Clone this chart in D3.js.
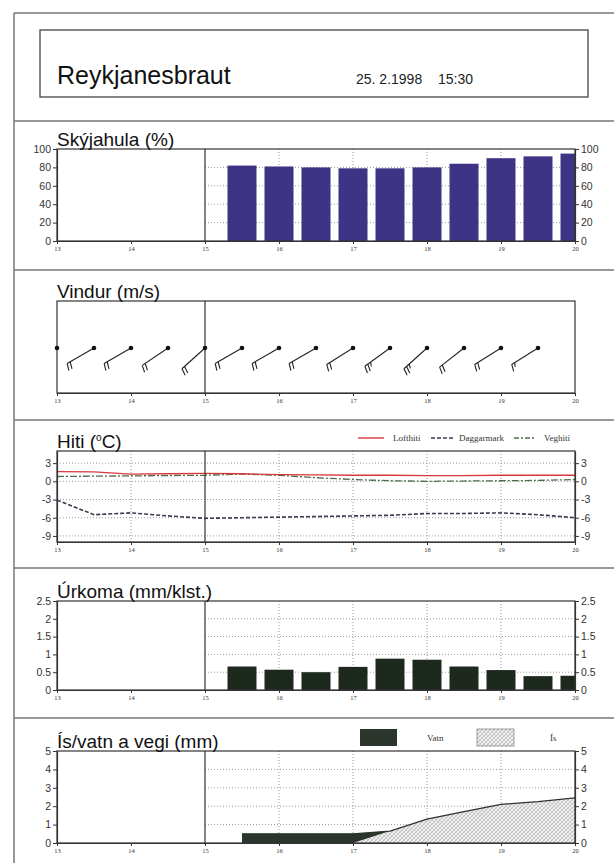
<!DOCTYPE html>
<html>
<head>
<meta charset="utf-8">
<script src="https://cdn.jsdelivr.net/npm/d3@7"></script>
<style>
  body { margin: 0; background: #fff; }
  svg { display: block; font-family: 'Liberation Sans', Arial, sans-serif; }
  .tick text { fill: #333; }
  .tick line, .domain { stroke: #333; }
</style>
</head>
<body>
<svg id="chart"></svg>
<script>
// x axis hours
const hours = [13, 14, 15, 16, 17, 18, 19, 20];

// Skýjahula (%) - half hourly from 15.5
const cloudTimes = [15.5, 16, 16.5, 17, 17.5, 18, 18.5, 19, 19.5, 20];
const cloudCover = [82, 81, 80, 79, 79, 80, 84, 90, 92, 95];

// Vindur (m/s)
const windTimes = [13, 13.5, 14, 14.5, 15, 15.5, 16, 16.5, 17, 17.5, 18, 18.5, 19, 19.5];
const windSpeed = [13, 12, 12, 11, 12, 12, 11, 12, 12, 13, 13, 12, 11, 9];
const windDir = [240, 240, 240, 236, 228, 240, 240, 240, 238, 234, 228, 232, 238, 238];

// Hiti (°C)
const tempTimes = [13, 13.5, 14, 14.5, 15, 15.5, 16, 16.5, 17, 17.5, 18, 18.5, 19, 19.5, 20];
const airTemp = [1.6, 1.55, 1.2, 1.25, 1.3, 1.25, 1.1, 1.05, 1.0, 1.0, 0.95, 0.95, 1.0, 1.0, 1.0];
const dewPoint = [-3.1, -5.5, -5.2, -5.7, -6.1, -6.0, -5.9, -5.8, -5.7, -5.6, -5.3, -5.3, -5.2, -5.5, -6.0];
const roadTemp = [0.8, 0.85, 0.9, 0.95, 1.0, 1.2, 1.0, 0.6, 0.3, 0.1, 0.0, 0.05, 0.1, 0.15, 0.3];

// Úrkoma (mm/klst.)
const precipTimes = [15.5, 16, 16.5, 17, 17.5, 18, 18.5, 19, 19.5, 20];
const precip = [0.66, 0.57, 0.5, 0.65, 0.88, 0.85, 0.66, 0.56, 0.39, 0.4];

// Ís/vatn a vegi (mm)
const roadTimes = [15.5, 16, 16.5, 17, 17.5, 18, 18.5, 19, 19.5, 20];
const water = [0.5, 0.5, 0.5, 0.5, 0, 0, 0, 0, 0, 0];
const ice = [0, 0, 0, 0, 0.65, 1.3, 1.7, 2.1, 2.25, 2.45];

const width = 614;
const height = 863;

const svg = d3.select('#chart').attr('width', width).attr('height', height);
const defs = svg.append('defs');

const hatch = defs.append('pattern')
  .attr('id', 'hatch')
  .attr('patternUnits', 'userSpaceOnUse')
  .attr('width', 4)
  .attr('height', 4);
hatch.append('rect').attr('width', 4).attr('height', 4).attr('fill', '#efefef');
hatch.append('path').attr('d', 'M0,4 L4,0').attr('stroke', '#999').attr('stroke-width', 0.6);
hatch.append('path').attr('d', 'M0,0 L4,4').attr('stroke', '#bbb').attr('stroke-width', 0.5);

const x = d3.scaleLinear().domain([13, 20]).range([57, 575]);

// page frame
const frame = svg.append('g').attr('stroke', '#777').attr('stroke-width', 1.5);
frame.append('line').attr('x1', 14).attr('x2', width).attr('y1', 13).attr('y2', 13);
frame.append('line').attr('x1', 14).attr('x2', 14).attr('y1', 13).attr('y2', height);
[121, 270, 420, 568, 718].forEach((yy) => {
  frame.append('line').attr('x1', 14).attr('x2', width).attr('y1', yy).attr('y2', yy);
});

// header
svg.append('rect')
  .attr('x', 40).attr('y', 30).attr('width', 548).attr('height', 67)
  .attr('fill', 'none').attr('stroke', '#444').attr('stroke-width', 1.3);
svg.append('text').attr('x', 57).attr('y', 84).style('font-size', '25px').attr('fill', '#111').text('Reykjanesbraut');
svg.append('text').attr('x', 356).attr('y', 84).style('font-size', '14px').attr('fill', '#222').text('25. 2.1998');
svg.append('text').attr('x', 438).attr('y', 84).style('font-size', '14px').attr('fill', '#222').text('15:30');

let clipId = 0;

const drawPanel = (opts) => {
  const { top, bottom, title, domain, ticks, gridFrom, axes } = opts;
  const g = svg.append('g');
  const y = domain ? d3.scaleLinear().domain(domain).range([bottom, top]) : null;

  clipId += 1;
  defs.append('clipPath').attr('id', 'clip' + clipId)
    .append('rect')
    .attr('x', x(13)).attr('y', top)
    .attr('width', x(20) - x(13)).attr('height', bottom - top);

  const grid = g.append('g').attr('stroke', '#9a9a9a').attr('stroke-dasharray', '1,2').attr('stroke-width', 1);
  if (y) {
    ticks.filter((t) => y(t) > top + 2 && y(t) < bottom - 2).forEach((t) => {
      grid.append('line')
        .attr('x1', x(gridFrom)).attr('x2', x(20))
        .attr('y1', y(t)).attr('y2', y(t));
    });
    hours.filter((h) => h > gridFrom && h < 20 && h !== 15).forEach((h) => {
      grid.append('line')
        .attr('x1', x(h)).attr('x2', x(h))
        .attr('y1', top).attr('y2', bottom);
    });
  }

  const marks = g.append('g').attr('clip-path', 'url(#clip' + clipId + ')');

  // box + 15 divider
  g.append('rect')
    .attr('x', x(13)).attr('y', top)
    .attr('width', x(20) - x(13)).attr('height', bottom - top)
    .attr('fill', 'none').attr('stroke', '#333').attr('stroke-width', 1.2);
  g.append('line')
    .attr('x1', x(15)).attr('x2', x(15)).attr('y1', top).attr('y2', bottom)
    .attr('stroke', '#333').attr('stroke-width', 1.2);

  if (y && axes) {
    const fmt = (d) => String(d);
    g.append('g')
      .attr('transform', 'translate(' + x(13) + ',0)')
      .call(d3.axisLeft(y).tickValues(ticks).tickSize(4).tickSizeOuter(0).tickPadding(2).tickFormat(fmt))
      .style('font-size', '10.5px');
    g.append('g')
      .attr('transform', 'translate(' + x(20) + ',0)')
      .call(d3.axisRight(y).tickValues(ticks).tickSize(4).tickSizeOuter(0).tickPadding(2).tickFormat(fmt))
      .style('font-size', '10.5px');
  }

  g.append('g')
    .attr('transform', 'translate(0,' + bottom + ')')
    .call(d3.axisBottom(x).tickValues(hours).tickSize(3).tickSizeOuter(0).tickPadding(2).tickFormat(d3.format('d')))
    .style('font-size', '6.5px')
    .style('font-family', "'Liberation Serif', serif");

  g.selectAll('.domain').attr('stroke-width', 1.2);

  if (title) {
    g.append('text')
      .attr('x', 57).attr('y', top - 3)
      .style('font-size', '19px').attr('fill', '#111')
      .text(title);
  }

  return { g, y, marks };
};

// Skýjahula
const cloud = drawPanel({
  top: 149, bottom: 241, title: 'Skýjahula (%)',
  domain: [0, 100], ticks: [0, 20, 40, 60, 80, 100], gridFrom: 15, axes: true,
});
cloud.marks.selectAll('rect')
  .data(cloudTimes)
  .enter()
  .append('rect')
  .attr('x', (d) => x(d) - 14.5)
  .attr('width', 29)
  .attr('y', (d, i) => cloud.y(cloudCover[i]))
  .attr('height', (d, i) => cloud.y(0) - cloud.y(cloudCover[i]))
  .attr('fill', '#3d3485');

// Vindur
const wind = drawPanel({ top: 301, bottom: 393, title: 'Vindur (m/s)' });
const windY = (301 + 393) / 2 + 1;
windTimes.forEach((t, i) => {
  const sx = x(t);
  const rad = (windDir[i] * Math.PI) / 180;
  const ux = Math.sin(rad);
  const uy = -Math.cos(rad);
  const L = 31;
  const tx = sx + ux * L;
  const ty = windY + uy * L;
  const shaft = wind.marks.append('g').attr('stroke', '#222').attr('stroke-width', 1.1).attr('fill', 'none');
  shaft.append('line').attr('x1', sx).attr('y1', windY).attr('x2', tx).attr('y2', ty);
  // feathers: full = 5 m/s, half = 2.5 m/s
  const full = Math.floor(windSpeed[i] / 5);
  const half = windSpeed[i] % 5 >= 2.5 ? 1 : 0;
  const px = uy;
  const py = -ux;
  for (let k = 0; k < full + half; k++) {
    const bx = tx - ux * k * 3.5;
    const by = ty - uy * k * 3.5;
    const len = k < full ? 7 : 4;
    shaft.append('line')
      .attr('x1', bx).attr('y1', by)
      .attr('x2', bx + px * len + ux * 2).attr('y2', by + py * len + uy * 2);
  }
  wind.g.append('circle').attr('cx', sx).attr('cy', windY).attr('r', 2.3).attr('fill', '#111');
});

// Hiti
const temp = drawPanel({
  top: 451, bottom: 542, title: '',
  domain: [-10, 5], ticks: [-9, -6, -3, 0, 3], gridFrom: 13, axes: true,
});
const hitiTitle = temp.g.append('text').attr('x', 57).attr('y', 448).style('font-size', '19px').attr('fill', '#111');
hitiTitle.append('tspan').text('Hiti (');
hitiTitle.append('tspan').attr('dy', -7).style('font-size', '10px').text('o');
hitiTitle.append('tspan').attr('dy', 7).text('C)');

const tLine = (vals) => d3.line().x((d, i) => x(tempTimes[i])).y((d) => temp.y(d))(vals);
temp.marks.append('path').attr('d', tLine(roadTemp)).attr('fill', 'none')
  .attr('stroke', '#4d6b4d').attr('stroke-width', 1.3).attr('stroke-dasharray', '7,2,2,2');
temp.marks.append('path').attr('d', tLine(dewPoint)).attr('fill', 'none')
  .attr('stroke', '#3a3a4c').attr('stroke-width', 1.6).attr('stroke-dasharray', '4,2');
temp.marks.append('path').attr('d', tLine(airTemp)).attr('fill', 'none')
  .attr('stroke', '#d9383a').attr('stroke-width', 1.3);

const legend = temp.g.append('g').style('font-family', "'Liberation Serif', serif").style('font-size', '9px').attr('fill', '#333');
legend.append('line').attr('x1', 358).attr('x2', 384).attr('y1', 438).attr('y2', 438).attr('stroke', '#d9383a').attr('stroke-width', 1.4);
legend.append('text').attr('x', 393).attr('y', 441).text('Lofthiti');
legend.append('line').attr('x1', 431).attr('x2', 455).attr('y1', 438).attr('y2', 438).attr('stroke', '#3a3a4c').attr('stroke-width', 1.4).attr('stroke-dasharray', '4,2');
legend.append('text').attr('x', 459).attr('y', 441).text('Daggarmark');
legend.append('line').attr('x1', 514).attr('x2', 534).attr('y1', 438).attr('y2', 438).attr('stroke', '#4d6b4d').attr('stroke-width', 1.3).attr('stroke-dasharray', '5,2,2,2');
legend.append('text').attr('x', 544).attr('y', 441).text('Veghiti');

// Úrkoma
const rain = drawPanel({
  top: 601, bottom: 690, title: 'Úrkoma (mm/klst.)',
  domain: [0, 2.5], ticks: [0, 0.5, 1, 1.5, 2, 2.5], gridFrom: 15, axes: true,
});
rain.marks.selectAll('rect')
  .data(precipTimes)
  .enter()
  .append('rect')
  .attr('x', (d) => x(d) - 14.5)
  .attr('width', 29)
  .attr('y', (d, i) => rain.y(precip[i]))
  .attr('height', (d, i) => rain.y(0) - rain.y(precip[i]))
  .attr('fill', '#1e291e');

// Ís/vatn a vegi
const road = drawPanel({
  top: 751, bottom: 843, title: 'Ís/vatn a vegi (mm)',
  domain: [0, 5], ticks: [0, 1, 2, 3, 4, 5], gridFrom: 15, axes: true,
});
const iceArea = d3.area()
  .x((d, i) => x(roadTimes[i]))
  .y0(road.y(0))
  .y1((d) => road.y(d));
road.marks.append('path').attr('d', iceArea(ice)).attr('fill', 'url(#hatch)');
const waterArea = d3.area()
  .x((d, i) => x(roadTimes[i]))
  .y0((d, i) => road.y(ice[i]))
  .y1((d, i) => road.y(ice[i] + water[i]));
road.marks.append('path').attr('d', waterArea(water)).attr('fill', '#2b352b');
road.marks.append('path')
  .attr('d', d3.line().x((d, i) => x(roadTimes[i])).y((d, i) => road.y(d + water[i]))(ice))
  .attr('fill', 'none').attr('stroke', '#2b352b').attr('stroke-width', 1.3);

const leg2 = road.g.append('g').style('font-family', "'Liberation Serif', serif").style('font-size', '9px').attr('fill', '#333');
leg2.append('rect').attr('x', 360).attr('y', 729).attr('width', 37).attr('height', 17).attr('fill', '#2b352b');
leg2.append('text').attr('x', 427).attr('y', 741).text('Vatn');
leg2.append('rect').attr('x', 477).attr('y', 729).attr('width', 37).attr('height', 17).attr('fill', 'url(#hatch)').attr('stroke', '#888').attr('stroke-width', 0.8);
leg2.append('text').attr('x', 550).attr('y', 741).text('Ís');
</script>
</body>
</html>
